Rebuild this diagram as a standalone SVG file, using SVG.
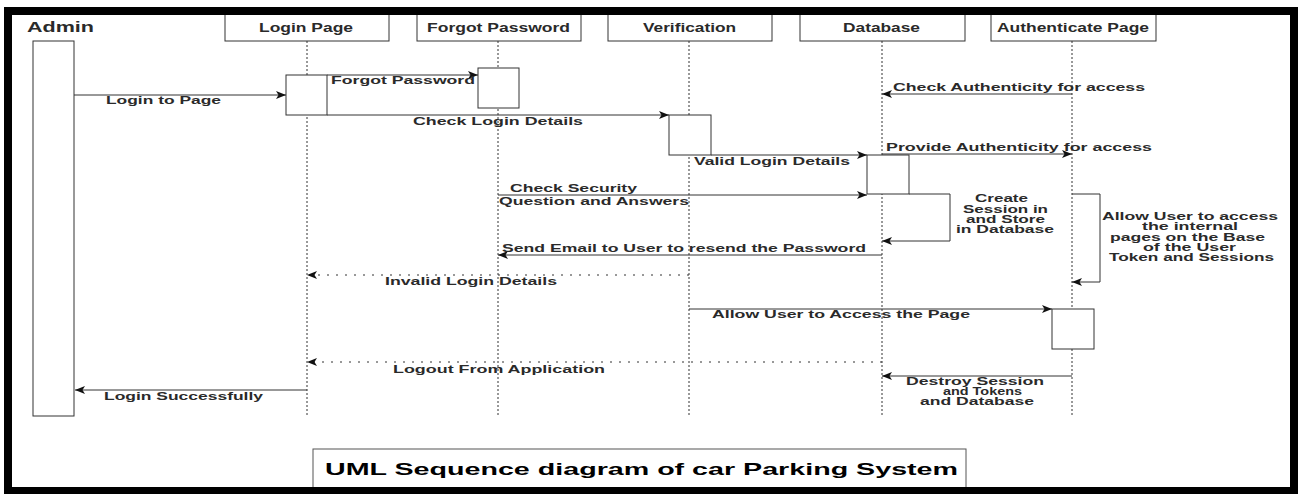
<svg xmlns="http://www.w3.org/2000/svg" width="1301" height="494" viewBox="0 0 1301 494">
<defs>
<style>
.hdr{fill:#fff;stroke:#333;stroke-width:1}
.act{fill:#fff;stroke:#333;stroke-width:1}
.life{stroke:#333;stroke-width:1;stroke-dasharray:2,2;fill:none}
.msg{stroke:#333;stroke-width:1;fill:none;marker-end:url(#ah)}
.ret{stroke:#333;stroke-width:1;fill:none;stroke-dasharray:2,7;marker-end:url(#ah)}
.t{font-family:"Liberation Sans",Arial,sans-serif;font-weight:bold;fill:#2a2a2a}
.h{font-size:12px}
.m{font-size:11px}
</style>
<marker id="ah" viewBox="0 0 10 8" refX="10" refY="4" markerWidth="10" markerHeight="8" markerUnits="userSpaceOnUse" orient="auto">
<path d="M0,0 L10,4 L0,8 L2.5,4 z" fill="#111"/>
</marker>
</defs>
<rect x="0" y="0" width="1301" height="494" fill="#fff"/>

<g id="admin">
<text class="t" x="27" y="32" font-size="15" textLength="67" lengthAdjust="spacingAndGlyphs">Admin</text>
<rect class="act" x="33" y="41" width="41" height="375"/>
</g>

<g id="login-page">
<rect class="hdr" x="225" y="10" width="164" height="31"/>
<text class="t h" x="259" y="32" textLength="94" lengthAdjust="spacingAndGlyphs">Login Page</text>
<line class="life" x1="307" y1="41" x2="307" y2="416"/>
<rect class="act" x="286" y="75" width="41" height="40"/>
</g>

<g id="forgot-password">
<rect class="hdr" x="417" y="10" width="164" height="31"/>
<text class="t h" x="427" y="32" textLength="143" lengthAdjust="spacingAndGlyphs">Forgot Password</text>
<line class="life" x1="498" y1="41" x2="498" y2="416"/>
<rect class="act" x="478" y="68" width="41" height="40"/>
</g>

<g id="verification">
<rect class="hdr" x="608" y="10" width="164" height="31"/>
<text class="t h" x="643" y="32" textLength="93" lengthAdjust="spacingAndGlyphs">Verification</text>
<line class="life" x1="689" y1="41" x2="689" y2="416"/>
<rect class="act" x="669" y="115" width="42" height="40"/>
</g>

<g id="database">
<rect class="hdr" x="800" y="10" width="165" height="31"/>
<text class="t h" x="843" y="32" textLength="77" lengthAdjust="spacingAndGlyphs">Database</text>
<line class="life" x1="882" y1="41" x2="882" y2="416"/>
<rect class="act" x="867" y="155" width="42" height="39"/>
</g>

<g id="authenticate-page">
<rect class="hdr" x="991" y="10" width="165" height="31"/>
<text class="t h" x="997" y="32" textLength="152" lengthAdjust="spacingAndGlyphs">Authenticate Page</text>
<line class="life" x1="1072" y1="41" x2="1072" y2="416"/>
<rect class="act" x="1052" y="309" width="42" height="40"/>
</g>

<g id="connectors">
<line class="msg" x1="74" y1="95" x2="286" y2="95"/>
<text class="t m" x="106" y="104" textLength="115" lengthAdjust="spacingAndGlyphs">Login to Page</text>

<line class="msg" x1="327" y1="75" x2="478" y2="75"/>
<text class="t m" x="331" y="84" textLength="144" lengthAdjust="spacingAndGlyphs">Forgot Password</text>

<line class="msg" x1="327" y1="115" x2="669" y2="115"/>
<text class="t m" x="413" y="125" textLength="170" lengthAdjust="spacingAndGlyphs">Check Login Details</text>

<line class="msg" x1="711" y1="155" x2="867" y2="155"/>
<text class="t m" x="694" y="165" textLength="156" lengthAdjust="spacingAndGlyphs">Valid Login Details</text>

<line class="msg" x1="1072" y1="94" x2="882" y2="94"/>
<text class="t m" x="893" y="91" textLength="252" lengthAdjust="spacingAndGlyphs">Check Authenticity for access</text>

<line class="msg" x1="882" y1="154" x2="1072" y2="154"/>
<text class="t m" x="886" y="151" textLength="266" lengthAdjust="spacingAndGlyphs">Provide Authenticity for access</text>

<line class="msg" x1="498" y1="195" x2="867" y2="195"/>
<text class="t m" x="510" y="192" textLength="127" lengthAdjust="spacingAndGlyphs">Check Security</text>
<text class="t m" x="499" y="205" textLength="190" lengthAdjust="spacingAndGlyphs">Question and Answers</text>

<polyline class="msg" points="909,194 950,194 950,241 882,241"/>
<text class="t m" x="975" y="202" textLength="53" lengthAdjust="spacingAndGlyphs">Create</text>
<text class="t m" x="963" y="213" textLength="85" lengthAdjust="spacingAndGlyphs">Session in</text>
<text class="t m" x="966" y="223" textLength="79" lengthAdjust="spacingAndGlyphs">and Store</text>
<text class="t m" x="956" y="233" textLength="98" lengthAdjust="spacingAndGlyphs">in Database</text>

<polyline class="msg" points="1072,194 1100,194 1100,282 1072,282"/>
<text class="t m" x="1102" y="220" textLength="176" lengthAdjust="spacingAndGlyphs">Allow User to access</text>
<text class="t m" x="1142" y="230" textLength="96" lengthAdjust="spacingAndGlyphs">the internal</text>
<text class="t m" x="1110" y="241" textLength="155" lengthAdjust="spacingAndGlyphs">pages on the Base</text>
<text class="t m" x="1143" y="251" textLength="93" lengthAdjust="spacingAndGlyphs">of the User</text>
<text class="t m" x="1109" y="261" textLength="165" lengthAdjust="spacingAndGlyphs">Token and Sessions</text>

<line class="msg" x1="882" y1="255" x2="498" y2="255"/>
<text class="t m" x="502" y="252" textLength="364" lengthAdjust="spacingAndGlyphs">Send Email to User to resend the Password</text>

<line class="ret" x1="689" y1="275" x2="307" y2="275"/>
<text class="t m" x="385" y="285" textLength="172" lengthAdjust="spacingAndGlyphs">Invalid Login Details</text>

<line class="msg" x1="689" y1="309" x2="1052" y2="309"/>
<text class="t m" x="712" y="318" textLength="258" lengthAdjust="spacingAndGlyphs">Allow User to Access the Page</text>

<line class="ret" x1="882" y1="362" x2="307" y2="362"/>
<text class="t m" x="393" y="373" textLength="212" lengthAdjust="spacingAndGlyphs">Logout From Application</text>

<line class="msg" x1="1072" y1="376" x2="882" y2="376"/>
<text class="t m" x="906" y="385" textLength="138" lengthAdjust="spacingAndGlyphs">Destroy Session</text>
<text class="t m" x="943" y="395" textLength="79" lengthAdjust="spacingAndGlyphs">and Tokens</text>
<text class="t m" x="920" y="405" textLength="114" lengthAdjust="spacingAndGlyphs">and Database</text>

<line class="msg" x1="307" y1="390" x2="75" y2="390"/>
<text class="t m" x="104" y="400" textLength="159" lengthAdjust="spacingAndGlyphs">Login Successfully</text>
</g>

<g id="title">
<rect x="313" y="449" width="653" height="44" fill="#fff" stroke="#555" stroke-width="1"/>
<text x="325" y="475" font-family="Liberation Sans, Arial, sans-serif" font-weight="bold" font-size="17" fill="#000" textLength="633" lengthAdjust="spacingAndGlyphs">UML Sequence diagram of car Parking System</text>
</g>

<rect id="frame" x="8" y="11" width="1286" height="480" fill="none" stroke="#000" stroke-width="8"/>
</svg>
